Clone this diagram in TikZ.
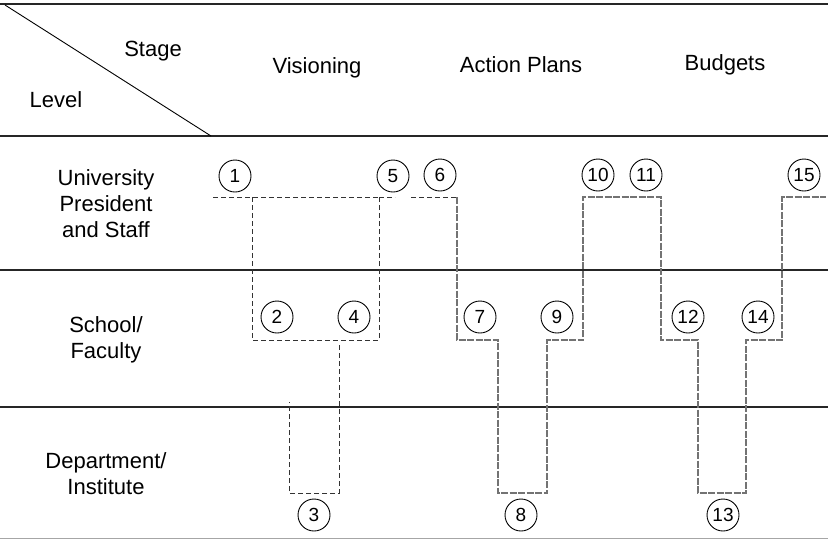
\documentclass[tikz,border=0pt]{standalone}
\usepackage{fontspec}
\setmainfont{Liberation Sans}
\begin{document}
\begin{tikzpicture}[x=1pt,y=-1pt,
  rule/.style={line width=1.1pt,black!85},
  lbl/.style={font=\fontsize{22}{26}\selectfont,align=center,inner sep=0pt},
  num/.style={circle,draw,line width=0.9pt,minimum size=32pt,inner sep=0pt,font=\fontsize{19}{19}\selectfont},
  vis/.style={line width=0.9pt,dash pattern=on 5pt off 3pt,black!80},
  flow/.style={line width=1.1pt,dash pattern=on 7pt off 1.5pt,black!55}]
\useasboundingbox (0,0) rectangle (828,539);
% frame lines
\draw[rule] (0,4) -- (828,4);
\draw[rule] (0,136) -- (828,136);
\draw[rule] (0,270) -- (828,270);
\draw[rule] (0,407) -- (828,407);
\draw[line width=0.8pt,black!35] (0,538) -- (828,538);
\draw[line width=0.9pt] (5,5) -- (211,136);
% header labels
\node[lbl] (stage) at (153,51) {Stage};
\node[lbl] (level) at (56,100) {Level};
\node[lbl] (vision) at (317,68) {Visioning};
\node[lbl] (action) at (521,65) {Action Plans};
\node[lbl] (budget) at (725,65) {Budgets};
% row labels
\node[lbl] (univ) at (106,204) {University\\President\\and Staff};
\node[lbl] (school) at (106,340) {School/\\Faculty};
\node[lbl] (dept) at (106,474) {Department/\\Institute};
% step paths
\draw[vis] (213,197) -- (379,197);
\draw[vis] (252,197) -- (252,340) -- (379,340) -- (379,197);
\draw[vis] (339,345) -- (339,493) -- (289,493) -- (289,402);
\draw[vis] (379,197) -- (395,197);
\draw[vis] (411,197) -- (457,197);
\draw[flow] (457,197) -- (457,340) -- (498,340) -- (498,493) -- (547,493) -- (547,340) -- (583,340) -- (583,197) -- (661,197) -- (661,340) -- (698,340) -- (698,493) -- (746,493) -- (746,340) -- (782,340) -- (782,197) -- (826,197);
% numbered circles
\node[num] (c1) at (235,176) {1};
\node[num] (c2) at (277,317) {2};
\node[num] (c3) at (314,515) {3};
\node[num] (c4) at (354,317) {4};
\node[num] (c5) at (393,176) {5};
\node[num] (c6) at (440,175) {6};
\node[num] (c7) at (480,317) {7};
\node[num] (c8) at (521,515) {8};
\node[num] (c9) at (557,317) {9};
\node[num] (c10) at (598,175) {10};
\node[num] (c11) at (646,175) {11};
\node[num] (c12) at (688,317) {12};
\node[num] (c13) at (723,515) {13};
\node[num] (c14) at (758,317) {14};
\node[num] (c15) at (804,175) {15};
\end{tikzpicture}
\end{document}
